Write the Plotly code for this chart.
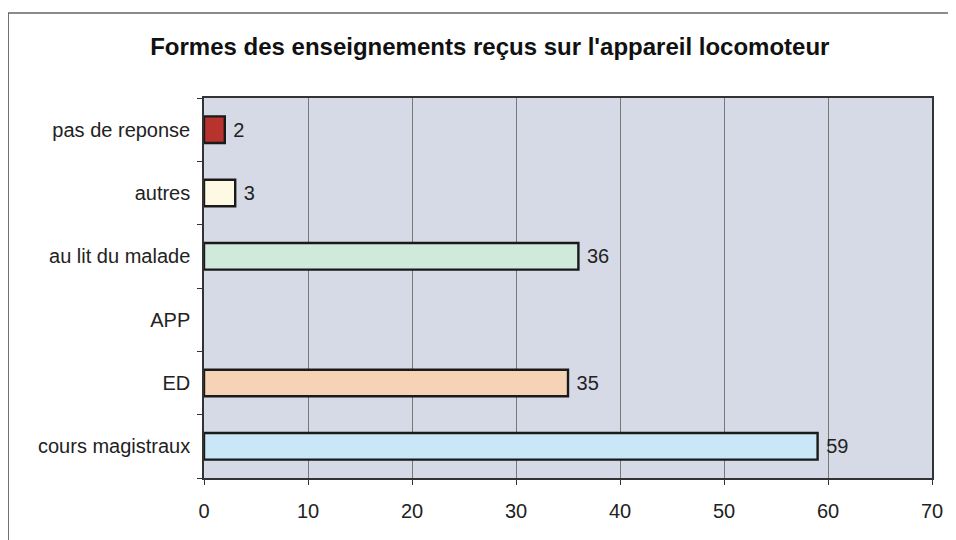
import plotly.graph_objects as go

# data, bottom to top
categories = ["cours magistraux", "ED", "APP", "au lit du malade", "autres", "pas de reponse"]
values = [59, 35, None, 36, 3, 2]
labels = ["59", "35", "", "36", "3", "2"]
colors = ["#c9e7f6", "#f6d3b4", "#ffffff", "#cfeadb", "#fdf9e2", "#b8322e"]

x_ticks = [0, 10, 20, 30, 40, 50, 60, 70]

fig = go.Figure()

fig.add_trace(go.Bar(
    x=values,
    y=categories,
    orientation="h",
    marker=dict(color=colors, line=dict(color="#1a1a1a", width=2.4)),
    width=0.42,
    text=[" " + t for t in labels],
    textposition="outside",
    textfont=dict(size=20, color="#222", family="Liberation Sans, Arial, sans-serif"),
    cliponaxis=False,
    showlegend=False,
))

fig.update_layout(
    width=956, height=540,
    margin=dict(l=196, r=32, t=90, b=70),
    paper_bgcolor="white",
    plot_bgcolor="#d6dae7",
    font=dict(family="Liberation Sans, Arial, sans-serif", size=20, color="#222"),
    title=dict(
        text="<b>Formes des enseignements reçus sur l'appareil locomoteur</b>",
        x=0.504, xanchor="center", y=0.928, yanchor="middle",
        font=dict(size=24, color="#111"),
    ),
)

fig.update_xaxes(
    range=[0, 70], tickvals=x_ticks, ticks="outside", ticklen=5,
    tickcolor="#333", showgrid=True, gridcolor="#777", gridwidth=1,
    showline=True, linecolor="#333", linewidth=1.5, mirror=True,
    zeroline=False, tickfont=dict(size=20), ticklabelstandoff=9,
)
fig.update_yaxes(
    categoryorder="array", categoryarray=categories,
    ticks="outside", tickson="boundaries", ticklen=5, tickcolor="#333",
    showline=True, linecolor="#333", linewidth=1.5, mirror=True,
    showgrid=False, tickfont=dict(size=20), ticklabelstandoff=8,
)

# outer frame of the chart
fig.add_shape(type="rect", xref="paper", yref="paper",
              x0=-0.269, x1=1.1, y0=-0.3, y1=1.224,
              line=dict(color="#666", width=1.5), fillcolor="rgba(0,0,0,0)", layer="below")

fig.write_html("out.html")
